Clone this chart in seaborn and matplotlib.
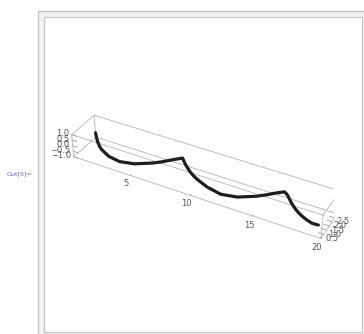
import numpy as np
import matplotlib
matplotlib.use("Agg")
import matplotlib.pyplot as plt
import seaborn as sns
from matplotlib.patches import Rectangle

sns.set_style("white")
plt.rcParams['font.family'] = ['DejaVu Sans']

# ---- data ----
t_vals = [0, 0.51, 1.03, 1.54, 2.05, 3.08, 4.11, 5.13, 6.16, 6.67, 7.19, 7.7,
          8.22, 8.74, 9.27, 9.79, 10.31, 11.35, 12.4, 13.44, 14.49, 15.01, 15.53, 15.95,
          16.28, 16.6, 16.93, 17.25, 17.66, 18.07, 18.48, 18.88, 19.29, 19.7]
y_vals = [3.0, 2.38, 1.78, 1.24, 0.77, 0.15, 0.02, 0.40, 1.24, 1.78, 2.38, 3.0,
          2.41, 1.84, 1.32, 0.86, 0.49, 0.05, 0.07, 0.55, 1.41, 1.95, 2.53, 3.0,
          2.53, 2.06, 1.62, 1.22, 0.78, 0.42, 0.17, 0.03, 0.01, 0.10]
z_vals = [-0.60, -0.55, -0.42, -0.28, -0.13, -0.02, -0.07, -0.16, -0.27, -0.32, -0.34, -0.40,
          -0.31, -0.16, -0.04, 0.10, 0.19, 0.17, -0.08, -0.27, -0.40, -0.45, -0.48, -0.55,
          -0.26, -0.02, 0.08, 0.14, 0.20, 0.23, 0.22, 0.15, 0.03, -0.02]
x_ticks = [5, 10, 15, 20]
x_tick_labels = ["5", "10", "15", "20"]
y_ticks = [0.5, 1.0, 1.5, 2.0, 2.5]
y_tick_labels = ["0.5", "1.0", "1.5", "2.0", "2.5"]
z_ticks = [-1.0, -0.5, 0.0, 0.5, 1.0]
z_tick_labels = ["\u22121.0", "\u22120.5", "0.0", "0.5", "1.0"]
x_range = [0, 20]
y_range = [0, 3]
z_range = [-1, 1]
out_label = "Out[5]="

W, H = 364, 334
fig = plt.figure(figsize=(W / 100, H / 100), dpi=100)
fig.patch.set_facecolor('white')

# notebook cell frame
fig.add_artist(Rectangle((37.5 / W, 1 - 345 / H), (375 - 37.5) / W, (345 - 10.5) / H,
                         transform=fig.transFigure, facecolor='#f2f2f2',
                         edgecolor='#c2c2c2', lw=0.9, zorder=0))
fig.add_artist(Rectangle((43.5 / W, 1 - 331.5 / H), (361.5 - 43.5) / W, (331.5 - 16.5) / H,
                         transform=fig.transFigure, facecolor='white',
                         edgecolor='#c8c8c8', lw=0.9, zorder=0))
fig.text(7 / W, 1 - 174 / H, out_label, fontsize=4.6, color='#6464bb',
         ha='left', va='center')

S0 = 300
ax = fig.add_axes([30 / W, 20 / H, S0 / W, S0 / H], projection='3d',
                  computed_zorder=False)
ax.set_facecolor((1, 1, 1, 0))
ax.set_box_aspect((x_range[1] - x_range[0], y_range[1] - y_range[0], z_range[1] - z_range[0]))
ax.view_init(elev=36.2, azim=-61.6)
ax.set_proj_type('persp', focal_length=0.634)
ax.set_axis_off()

edge_c = '#b4b4b4'
for yy in y_range:
    for zz in z_range:
        ax.plot(x_range, [yy, yy], [zz, zz], color=edge_c, lw=0.6, zorder=1)
for xx in x_range:
    for zz in z_range:
        ax.plot([xx, xx], y_range, [zz, zz], color=edge_c, lw=0.6, zorder=1)
for xx in x_range:
    for yy in y_range:
        ax.plot([xx, xx], [yy, yy], z_range, color=edge_c, lw=0.6, zorder=1)

x0, x1 = x_range
y0, y1 = y_range
z0, z1 = z_range
tick_c = '#a0a0a0'
lab_c = '#555555'
for xt in x_ticks:
    ax.plot([xt, xt], [y0, y0 + 0.12], [z0, z0], color=tick_c, lw=0.6, zorder=2)
for zt in z_ticks:
    ax.plot([x0, x0 + 0.4], [y0, y0], [zt, zt], color=tick_c, lw=0.6, zorder=2)
for yt in y_ticks:
    ax.plot([x1, x1 - 0.4], [yt, yt], [z0, z0], color=tick_c, lw=0.6, zorder=2)

ax.plot(t_vals, y_vals, z_vals, color='#1e1e1e', lw=2.3,
        solid_capstyle='round', solid_joinstyle='round', zorder=5)

ax.set_xlim(*x_range)
ax.set_ylim(*y_range)
ax.set_zlim(*z_range)


def to_display(c):
    M = ax.get_proj()
    v = M @ np.array([c[0], c[1], c[2], 1.0])
    return ax.transData.transform((v[0] / v[3], v[1] / v[3]))


# ---- place the box where it sits in the reference ----
fig.canvas.draw()
corners = [(x0, y0, z0), (x0, y0, z1), (x0, y1, z1), (x1, y1, z1), (x1, y0, z0), (x1, y1, z0)]
targets = [(74, 157), (73.5, 132), (92, 117), (338.5, 190), (322, 239), (338, 215)]
n = np.array([ax.transAxes.inverted().transform(to_display(c)) for c in corners])
q = np.array([(tx, H - ty) for tx, ty in targets])
nm, qm = n.mean(0), q.mean(0)
S = ((n - nm) * (q - qm)).sum() / ((n - nm) ** 2).sum()
O = qm - S * nm
ax.set_position([O[0] / W, O[1] / H, S / W, S / H])
fig.canvas.draw()

# ---- tick labels, placed at the projected tick positions ----
for xt, lab in zip(x_ticks, x_tick_labels):
    d = to_display((xt, y0 - 0.6, z0 - 0.35))
    fig.text(d[0] / W, d[1] / H, lab, fontsize=6, color=lab_c, ha='center', va='center')
for zt, lab in zip(z_ticks, z_tick_labels):
    d = to_display((x0 - 0.25, y0, zt))
    fig.text(d[0] / W, d[1] / H, lab, fontsize=6, color=lab_c, ha='right', va='center')
for yt, lab in zip(y_ticks, y_tick_labels):
    d = to_display((x1 + 0.15, yt, z0 - 0.3))
    fig.text(d[0] / W, d[1] / H, lab, fontsize=6, color=lab_c, ha='left', va='center')

fig.savefig("out.png", dpi=100, facecolor='white')
